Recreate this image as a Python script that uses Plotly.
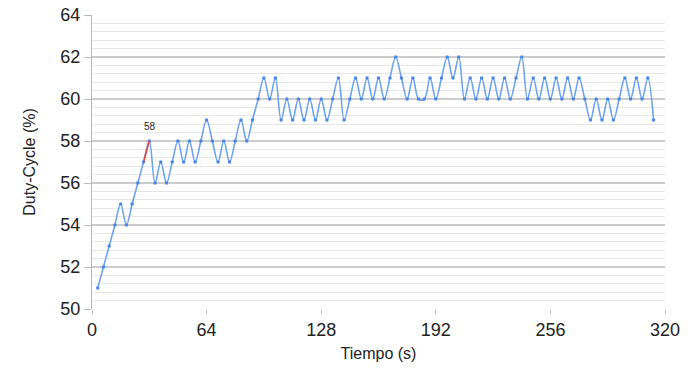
import plotly.graph_objects as go

# Time samples (s)
tiempo = [3.2, 6.4, 9.6, 12.8, 16.0, 19.2, 22.4, 25.6, 28.8, 32.0,
          35.2, 38.4, 41.6, 44.8, 48.0, 51.2, 54.4, 57.6, 60.8, 64.0,
          67.2, 70.4, 73.6, 76.8, 80.0, 83.2, 86.4, 89.6, 92.8, 96.0,
          99.2, 102.4, 105.6, 108.8, 112.0, 115.2, 118.4, 121.6, 124.8, 128.0,
          131.2, 134.4, 137.6, 140.8, 144.0, 147.2, 150.4, 153.6, 156.8, 160.0,
          163.2, 166.4, 169.6, 172.8, 176.0, 179.2, 182.4, 185.6, 188.8, 192.0,
          195.2, 198.4, 201.6, 204.8, 208.0, 211.2, 214.4, 217.6, 220.8, 224.0,
          227.2, 230.4, 233.6, 236.8, 240.0, 243.2, 246.4, 249.6, 252.8, 256.0,
          259.2, 262.4, 265.6, 268.8, 272.0, 275.2, 278.4, 281.6, 284.8, 288.0,
          291.2, 294.4, 297.6, 300.8, 304.0, 307.2, 310.4, 313.6]

# Duty-cycle (%)
duty = [51, 52, 53, 54, 55, 54, 55, 56, 57, 58,
        56, 57, 56, 57, 58, 57, 58, 57, 58, 59,
        58, 57, 58, 57, 58, 59, 58, 59, 60, 61,
        60, 61, 59, 60, 59, 60, 59, 60, 59, 60,
        59, 60, 61, 59, 60, 61, 60, 61, 60, 61,
        60, 61, 62, 61, 60, 61, 60, 60, 61, 60,
        61, 62, 61, 62, 60, 61, 60, 61, 60, 61,
        60, 61, 60, 61, 62, 60, 61, 60, 61, 60,
        61, 60, 61, 60, 61, 60, 59, 60, 59, 60,
        59, 60, 61, 60, 61, 60, 61, 59]

# Highlighted segment (indices into the series) and its label
highlight_idx = [8, 9]
highlight_label = "58"

x_ticks = [0, 64, 128, 192, 256, 320]
y_ticks = [50, 52, 54, 56, 58, 60, 62, 64]

FONT = "Liberation Sans, Arial, sans-serif"

fig = go.Figure()
fig.add_trace(go.Scatter(
    x=tiempo, y=duty, mode="lines+markers",
    line=dict(color="#6fa3f2", width=1.6, shape="spline", smoothing=1.0),
    marker=dict(color="#4a86e8", size=3.5),
    showlegend=False, hoverinfo="x+y"))

fig.add_trace(go.Scatter(
    x=[tiempo[i] for i in highlight_idx], y=[duty[i] for i in highlight_idx],
    mode="lines", line=dict(color="#e8453c", width=1.6),
    showlegend=False, hoverinfo="skip"))

fig.add_annotation(
    x=tiempo[highlight_idx[-1]], y=duty[highlight_idx[-1]],
    text=highlight_label, showarrow=False, yshift=15, xshift=1,
    font=dict(family=FONT, size=10, color="#222"))

fig.update_layout(
    width=693, height=368,
    margin=dict(l=92, r=28, t=15, b=59),
    paper_bgcolor="white", plot_bgcolor="white",
    font=dict(family=FONT, color="#222"),
    xaxis=dict(
        range=[0, 320], tickvals=x_ticks, ticktext=[str(v) for v in x_ticks],
        showgrid=False, zeroline=False, showline=False, automargin=False,
        ticks="outside", ticklen=4, tickcolor="#bdbdbd", tickwidth=1,
        tickfont=dict(size=18, color="#222"),
        title=dict(text="Tiempo (s)", font=dict(size=16, color="#222"), standoff=9),
    ),
    yaxis=dict(
        range=[50, 64], tickvals=y_ticks, ticktext=[str(v) for v in y_ticks],
        showgrid=True, gridcolor="#cbcbcb", gridwidth=1.6,
        minor=dict(dtick=0.4, tick0=50, showgrid=True, gridcolor="#e6e6e6", gridwidth=1),
        zeroline=False, showline=True, linecolor="#b5b5b5", linewidth=1, automargin=False,
        ticks="outside", ticklen=7, tickcolor="#bdbdbd", tickwidth=1,
        tickfont=dict(size=18, color="#222"),
        title=dict(text="Duty-Cycle (%)", font=dict(size=16, color="#222"), standoff=20),
    ),
)

fig.write_html("out.html", config={"displayModeBar": False},
               post_script="document.body.style.margin='0';document.body.style.overflow='hidden';")
